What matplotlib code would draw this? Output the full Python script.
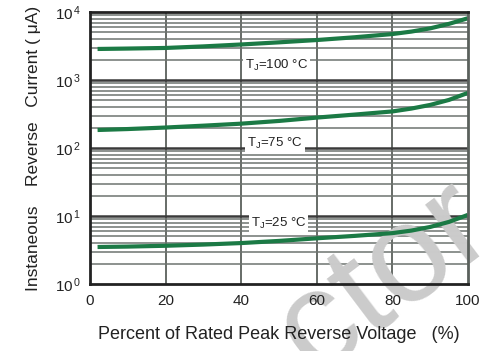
import matplotlib
matplotlib.use("Agg")
import matplotlib.pyplot as plt
import numpy as np
from matplotlib.ticker import FixedLocator, FuncFormatter

plt.rcParams['font.family'] = ['Liberation Sans', 'DejaVu Sans']

# Data
x_pct = [2, 10, 20, 30, 40, 50, 60, 70, 80, 85, 90, 95, 100]
i_100 = [2860, 2900, 2960, 3120, 3330, 3580, 3870, 4250, 4740, 5150, 5750, 6700, 8100]
i_75 = [184, 190, 200, 213, 228, 250, 280, 310, 345, 380, 430, 510, 647]
i_25 = [3.5, 3.55, 3.65, 3.8, 4.0, 4.3, 4.7, 5.1, 5.6, 6.1, 6.9, 8.2, 10.4]
labels = ["T$_\\mathregular{J}$=100 \u00b0C", "T$_\\mathregular{J}$=75 \u00b0C", "T$_\\mathregular{J}$=25 \u00b0C"]
label_pos = [(41, 1650), (41.5, 118), (42.5, 7.8)]
x_ticks = [0, 20, 40, 60, 80, 100]
y_ticks = [1, 10, 100, 1000, 10000]

fig = plt.figure(figsize=(4.89, 3.51), dpi=100)
ax = fig.add_axes([90/489, 1-284/351, (468-90)/489, (284-12)/351])
ax.set_yscale('log')
ax.set_xlim(0, 100)
ax.set_ylim(1, 10000)

# grid
for v in [20, 40, 60, 80]:
    ax.axvline(v, color='#5a605c', lw=1.3, zorder=1)
for d in [1, 10, 100, 1000]:
    for m in range(2, 10):
        ax.axhline(d*m, color='#6e7470', lw=1.1, zorder=1)
for d in [10, 100, 1000]:
    ax.axhline(d, color='#3a3a3a', lw=1.8, zorder=1)

# watermark (over grid, under curves and texts)
ax.text(0.785, 0.205, "ctor", fontsize=100, color='#cbcbcb', rotation=37,
        ha='center', va='center', zorder=2, transform=fig.transFigure, clip_on=False)

green = '#1b7a45'
for ys in [i_100, i_75, i_25]:
    ax.plot(x_pct, ys, color=green, lw=3, zorder=3, solid_capstyle='butt')

for (lx, ly), t in zip(label_pos, labels):
    ax.text(lx, ly, t, fontsize=9.5, ha='left', va='center', zorder=4, color='#222222',
            bbox=dict(facecolor='white', edgecolor='none', pad=1.5))

ax.xaxis.set_major_locator(FixedLocator(x_ticks))
ax.yaxis.set_major_locator(FixedLocator(y_ticks))
ax.yaxis.set_minor_locator(FixedLocator([]))
ax.yaxis.set_major_formatter(FuncFormatter(lambda v, p: r'$\mathregular{10^{\,%d}}$' % int(round(np.log10(v)))))
ax.tick_params(axis='both', length=0, labelsize=11, pad=7, colors='#222222')
ax.tick_params(axis='y', pad=6)
ax.xaxis.set_zorder(6)
ax.yaxis.set_zorder(6)

for s in ['left', 'bottom', 'top']:
    ax.spines[s].set_linewidth(2)
    ax.spines[s].set_color('#222222')
    ax.spines[s].set_zorder(5)
ax.spines['right'].set_linewidth(2)
ax.spines['right'].set_color('#5a605c')
ax.spines['right'].set_zorder(5)
ax.patch.set_alpha(0)

ax.set_xlabel("Percent of Rated Peak Reverse Voltage   (%)", fontsize=13, color='#222222', labelpad=13)
ax.set_ylabel("Instaneous    Reverse   Current ( \u03bcA)", fontsize=12.5, color='#222222', labelpad=10)

fig.savefig("out.png", dpi=100)
